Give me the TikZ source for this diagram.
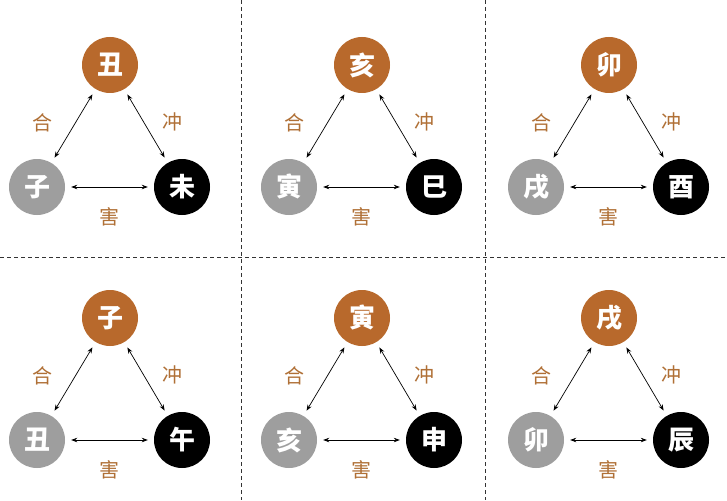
\documentclass[tikz,border=0pt]{standalone}
\usepackage{fontspec}
\newfontfamily\cjk{Noto Sans CJK SC}
\usetikzlibrary{positioning,arrows.meta}
\definecolor{zhuBrown}{HTML}{B8692C}
\definecolor{zhuGray}{HTML}{9E9E9E}
\definecolor{zhuLabel}{HTML}{B07036}
\tikzset{
  branch/.style={circle,minimum size=56pt,inner sep=0pt,text=white,font=\cjk\bfseries\fontsize{26}{26}\selectfont},
  topb/.style={branch,fill=zhuBrown},
  leftb/.style={branch,fill=zhuGray},
  rightb/.style={branch,fill=black},
  rel/.style={{Stealth[length=6pt,width=4.5pt]}-{Stealth[length=6pt,width=4.5pt]},line width=0.7pt,shorten <=6pt,shorten >=6pt},
  rellabel/.style={text=zhuLabel,font=\cjk\fontsize{20}{20}\selectfont},
  sep/.style={dashed,dash pattern=on 4pt off 3pt,line width=0.9pt,color=black!80}
}
\begin{document}
\begin{tikzpicture}[x=1pt,y=-1pt]
  \useasboundingbox[fill=white] (0,0) rectangle (727,500);
  % separators
  \draw[sep] (241,0) -- (241,500);
  \draw[sep] (485,0) -- (485,500);
  \draw[sep] (0,257) -- (727,257);

  \foreach \px/\py/\t/\l/\r [count=\i] in {
      110/65/丑/子/未, 362/65/亥/寅/巳, 609/65/卯/戌/酉,
      110/318/子/丑/午, 362/318/寅/亥/申, 609/318/戌/卯/辰} {
    \node[topb] (t\i) at (\px,\py) {\t};
    \node[leftb,below left=122pt and 73pt of t\i.center,anchor=center] (l\i) {\l};
    \node[rightb,below right=122pt and 72pt of t\i.center,anchor=center] (r\i) {\r};

    \draw[rel] (t\i) -- node[rellabel,xshift=-31pt,yshift=3pt] {合} (l\i);
    \draw[rel] (t\i) -- node[rellabel,xshift=26pt,yshift=4pt] {冲} (r\i);
    \draw[rel] (l\i) -- node[rellabel,yshift=-30pt] {害} (r\i);
  }
\end{tikzpicture}
\end{document}
